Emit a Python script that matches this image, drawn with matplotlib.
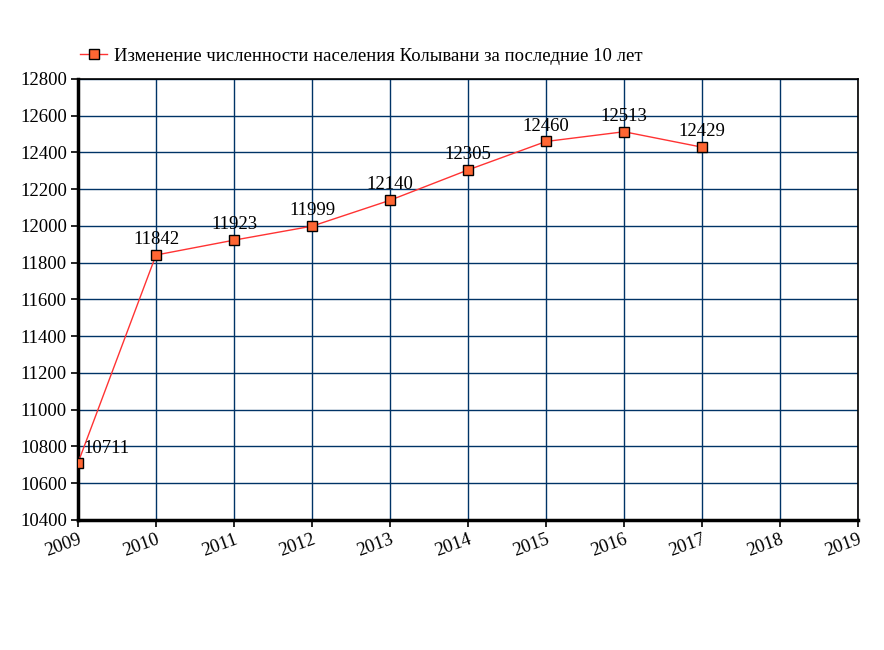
import numpy as np
import matplotlib.pyplot as plt

years = [2009, 2010, 2011, 2012, 2013, 2014, 2015, 2016, 2017]
population = [10711, 11842, 11923, 11999, 12140, 12305, 12460, 12513, 12429]
x_ticks = list(range(2009, 2020))
y_ticks = list(range(10400, 12801, 200))
label = 'Изменение численности населения Колывани за последние 10 лет'

plt.rcParams['font.family'] = ['Liberation Serif', 'DejaVu Serif']

fig = plt.figure(figsize=(8.84, 6.5), dpi=100)
ax = fig.add_axes([78 / 884, 1 - 520 / 650, 780 / 884, 441 / 650])

ax.plot(years, population, color='#ff3333', linewidth=1,
        marker='s', markersize=7, markerfacecolor='#ff6633',
        markeredgecolor='black', markeredgewidth=1, label=label, zorder=3)

# value labels above each point, the first one to the right
for i, (x, y) in enumerate(zip(years, population)):
    if i == 0:
        ax.annotate(str(y), (x, y), xytext=(4, 10), textcoords='offset points',
                    ha='left', va='center', fontsize=13.5)
    else:
        ax.annotate(str(y), (x, y), xytext=(0, 11), textcoords='offset points',
                    ha='center', va='center', fontsize=13.5)

ax.set_xlim(2009, 2019)
ax.set_ylim(10400, 12800)
ax.set_xticks(x_ticks)
ax.set_yticks(y_ticks)
ax.set_xticklabels([str(t) for t in x_ticks], rotation=20, ha='right',
                   fontsize=13.5, rotation_mode='anchor')
ax.set_yticklabels([str(t) for t in y_ticks], fontsize=13.5)
ax.grid(True, color='#003366', linewidth=1)
ax.set_axisbelow(True)
ax.tick_params(direction='out', length=5, width=1.2, color='black', pad=3)

ax.spines['left'].set_linewidth(2.5)
ax.spines['bottom'].set_linewidth(2.5)
ax.spines['right'].set_linewidth(1.2)
ax.spines['top'].set_linewidth(1.2)

fig.legend(handles=ax.get_lines(), loc='center left',
           bbox_to_anchor=(80 / 884, 1 - 56 / 650), frameon=False,
           fontsize=13.5, handlelength=1.45, handletextpad=0.35,
           borderaxespad=0, borderpad=0)

fig.savefig('out.png', dpi=100)
